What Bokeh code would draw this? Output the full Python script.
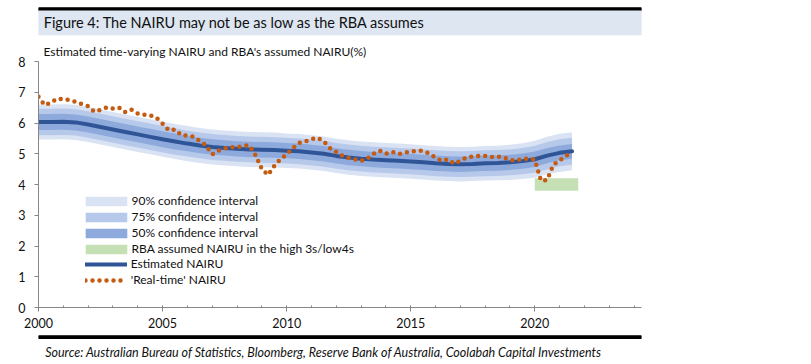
import numpy as np
from bokeh.plotting import figure
from bokeh.models import (Range1d, SingleIntervalTicker, FixedTicker, Legend,
                          LegendItem, Label, ColumnDataSource)
from bokeh.layouts import column
from bokeh.embed import file_html
from bokeh.resources import INLINE

FONT = "Lato"

# ---------------- data ----------------
title_text = "Figure 4: The NAIRU may not be as low as the RBA assumes"
subtitle_text = "Estimated time-varying NAIRU and RBA's assumed NAIRU(%)"
source_text = ("Source: Australian Bureau of Statistics, Bloomberg, Reserve Bank of Australia, "
               "Coolabah Capital Investments")

# Estimated NAIRU, half-yearly 2000.0 .. 2021.5
est_years = np.arange(2000.0, 2021.51, 0.5)
est_nairu = [6.03, 6.03, 6.04, 6.02, 5.95, 5.87, 5.79, 5.71, 5.63, 5.55,
             5.47, 5.40, 5.33, 5.27, 5.22, 5.19, 5.16, 5.14, 5.13, 5.12,
             5.10, 5.08, 5.04, 5.00, 4.93, 4.88, 4.84, 4.81, 4.79, 4.77,
             4.75, 4.72, 4.69, 4.67, 4.66, 4.67, 4.69, 4.70, 4.72, 4.76,
             4.82, 4.94, 5.03, 5.08]
# half-widths of the confidence bands
hw90 = [0.57, 0.57, 0.57, 0.57, 0.57, 0.57, 0.57, 0.57, 0.57, 0.57,
        0.57, 0.57, 0.57, 0.57, 0.57, 0.57, 0.57, 0.57, 0.57, 0.57,
        0.56, 0.56, 0.56, 0.56, 0.56, 0.56, 0.56, 0.56, 0.56, 0.56,
        0.56, 0.56, 0.56, 0.56, 0.56, 0.56, 0.56, 0.56, 0.57, 0.58,
        0.60, 0.61, 0.62, 0.62]
hw75 = [0.43, 0.43, 0.43, 0.43, 0.43, 0.43, 0.43, 0.43, 0.43, 0.43,
        0.43, 0.43, 0.42, 0.42, 0.42, 0.42, 0.42, 0.42, 0.42, 0.42,
        0.42, 0.42, 0.42, 0.42, 0.42, 0.42, 0.42, 0.42, 0.42, 0.42,
        0.42, 0.42, 0.42, 0.42, 0.42, 0.42, 0.42, 0.42, 0.42, 0.43,
        0.44, 0.44, 0.44, 0.44]
hw50 = [0.26, 0.26, 0.26, 0.26, 0.26, 0.26, 0.26, 0.26, 0.26, 0.26,
        0.26, 0.26, 0.25, 0.25, 0.25, 0.25, 0.25, 0.25, 0.25, 0.25,
        0.25, 0.25, 0.25, 0.25, 0.25, 0.25, 0.25, 0.25, 0.25, 0.25,
        0.25, 0.25, 0.25, 0.25, 0.25, 0.25, 0.25, 0.25, 0.25, 0.25,
        0.25, 0.25, 0.24, 0.24]

# 'Real-time' NAIRU, quarterly 2000.00 .. 2021.50
rt_years = np.arange(2000.0, 2021.51, 0.25)
rt_nairu = [6.85, 6.58, 6.66, 6.79, 6.78, 6.74, 6.69, 6.61,
            6.55, 6.37, 6.43, 6.51, 6.47, 6.50, 6.35, 6.43,
            6.31, 6.27, 6.25, 6.17, 5.98, 5.76, 5.79, 5.61,
            5.59, 5.55, 5.41, 5.27, 4.98, 5.10, 5.17, 5.21,
            5.21, 5.26, 5.27, 4.95, 4.50, 4.31, 4.60, 4.82,
            4.98, 5.18, 5.35, 5.40, 5.47, 5.52, 5.40, 5.18,
            5.06, 4.93, 4.86, 4.82, 4.77, 4.84, 5.00, 5.10,
            5.00, 5.06, 4.99, 5.03, 5.07, 5.10, 5.09, 5.00,
            4.87, 4.77, 4.82, 4.68, 4.77, 4.88, 4.91, 4.93,
            4.93, 4.89, 4.91, 4.88, 4.79, 4.78, 4.83, 4.84,
            4.81, 4.12, 4.15, 4.64, 4.78, 4.92, 5.06]

# RBA assumed NAIRU range ("high 3s / low 4s")
rba_start = [2020.0]
rba_end = [2021.75]
rba_low = [3.8]
rba_high = [4.2]

x_ticks_major = 5
y_ticks = [0, 1, 2, 3, 4, 5, 6, 7, 8]

legend_labels = ["90% confidence interval", "75% confidence interval",
                 "50% confidence interval", "RBA assumed NAIRU in the high 3s/low4s",
                 "Estimated NAIRU", "'Real-time' NAIRU"]

# ---------------- colours ----------------
C90, C75, C50 = "#dae3f3", "#b7c9ea", "#8eaadd"
CGREEN = "#c5e0b4"
CLINE = "#2f5597"
CDOT = "#c55a11"
CBAND = "#dde6f1"
CAXIS = "#868686"
CTXT = "#111111"

W = 811

# ---------------- header ----------------
hdr = figure(width=W, height=38, x_range=Range1d(0, W), y_range=Range1d(0, 38),
             x_axis_type=None, y_axis_type=None, output_backend="svg",
             toolbar_location=None, min_border=0)
hdr.grid.visible = False
hdr.outline_line_color = None
hdr.quad(left=[0], right=[W], top=[30.7], bottom=[28], color="black")
hdr.quad(left=[0], right=[W], top=[27.5], bottom=[3.7], color=CBAND)
hdr.add_layout(Label(x=7, y=16.3, text=title_text, text_font=FONT,
                     text_font_size="14.5px", text_baseline="middle", text_color=CTXT))

# ---------------- main chart ----------------
p = figure(width=W, height=296, x_range=Range1d(2000, 2024.3), y_range=Range1d(0, 8),
           output_backend="svg", toolbar_location=None,
           min_border_left=38, min_border_right=170, min_border_top=21, min_border_bottom=27)
p.grid.visible = False
p.outline_line_color = None

# chart sub-title, just above the plotting area
p.title.text = subtitle_text
p.title.align = "left"
p.title.offset = 5
p.title.standoff = 6
p.title.text_font = FONT
p.title.text_font_size = "12px"
p.title.text_font_style = "normal"
p.title.text_color = CTXT

est = np.array(est_nairu)
src = ColumnDataSource(dict(
    x=est_years, y=est,
    lo90=est - np.array(hw90), hi90=est + np.array(hw90),
    lo75=est - np.array(hw75), hi75=est + np.array(hw75),
    lo50=est - np.array(hw50), hi50=est + np.array(hw50),
))

r90 = p.varea(x="x", y1="lo90", y2="hi90", source=src, fill_color=C90)
r75 = p.varea(x="x", y1="lo75", y2="hi75", source=src, fill_color=C75)
r50 = p.varea(x="x", y1="lo50", y2="hi50", source=src, fill_color=C50)
rrba = p.quad(left=rba_start, right=rba_end, bottom=rba_low, top=rba_high,
              fill_color=CGREEN, line_color=None)
rest = p.line(x="x", y="y", source=src, line_color=CLINE, line_width=4, line_cap="round")
rrt = p.line(x=rt_years, y=rt_nairu, line_color=CDOT, line_width=4.5,
             line_dash="0 7", line_cap="round")

p.xaxis.ticker = SingleIntervalTicker(interval=x_ticks_major, num_minor_ticks=5)
p.yaxis.ticker = FixedTicker(ticks=y_ticks)
for ax in (p.xaxis[0], p.yaxis[0]):
    ax.axis_line_color = CAXIS
    ax.major_tick_line_color = CAXIS
    ax.minor_tick_line_color = CAXIS
    ax.major_label_text_font = FONT
    ax.major_label_text_font_size = "12.5px"
    ax.major_label_text_color = CTXT
p.xaxis.major_tick_in = 2
p.xaxis.major_tick_out = 4
p.xaxis.minor_tick_in = 2
p.xaxis.minor_tick_out = 0
p.xaxis.major_label_standoff = 6
p.yaxis.major_tick_in = 0
p.yaxis.major_tick_out = 4
p.yaxis.minor_tick_line_color = None
p.yaxis.major_label_standoff = 9

common = dict(padding=0, margin=0, spacing=1, border_line_color=None,
              background_fill_alpha=0, label_text_font=FONT,
              label_text_font_size="12px", label_text_color=CTXT,
              glyph_height=12, label_height=12)
leg_a = Legend(items=[LegendItem(label=legend_labels[0], renderers=[r90]),
                      LegendItem(label=legend_labels[1], renderers=[r75]),
                      LegendItem(label=legend_labels[2], renderers=[r50]),
                      LegendItem(label=legend_labels[3], renderers=[rrba])],
               location=(41.5, 50.7), glyph_width=52, label_standoff=0, **common)
leg_b = Legend(items=[LegendItem(label=legend_labels[4], renderers=[rest]),
                      LegendItem(label=legend_labels[5], renderers=[rrt])],
               location=(46.7, 19.7), glyph_width=42, label_standoff=4, **common)
p.add_layout(leg_a)
p.add_layout(leg_b)

# ---------------- footer ----------------
ftr = figure(width=W, height=30, x_range=Range1d(0, W), y_range=Range1d(0, 30),
             x_axis_type=None, y_axis_type=None, output_backend="svg",
             toolbar_location=None, min_border=0)
ftr.grid.visible = False
ftr.outline_line_color = None
ftr.quad(left=[0], right=[W], top=[28.7], bottom=[26], color="black")
ftr.add_layout(Label(x=9, y=12.3, text=source_text, text_font=FONT, text_font_style="italic",
                     text_font_size="12.5px", text_baseline="middle", text_color=CTXT))

layout = column(hdr, p, ftr, spacing=0)
open("out.html", "w").write(file_html(layout, INLINE))
